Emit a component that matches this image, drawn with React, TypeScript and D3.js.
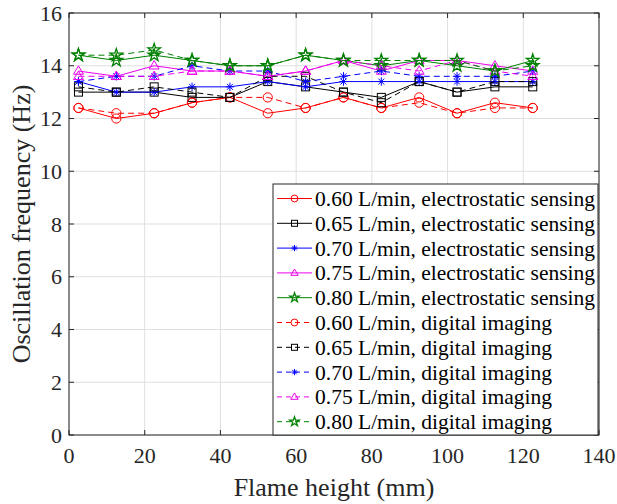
import React from "react";
import * as d3 from "d3";

const xHeights = [2.5, 12.5, 22.5, 32.5, 42.5, 52.5, 62.5, 72.5, 82.5, 92.5, 102.5, 112.5, 122.5];

const es060 = [12.4, 12.0, 12.2, 12.6, 12.8, 12.2, 12.4, 12.8, 12.4, 12.8, 12.2, 12.6, 12.4];
const es065 = [13.0, 13.0, 13.0, 12.8, 12.8, 13.4, 13.2, 13.0, 12.8, 13.4, 13.0, 13.2, 13.2];
const es070 = [13.4, 13.0, 13.0, 13.2, 13.2, 13.4, 13.2, 13.4, 13.4, 13.4, 13.4, 13.4, 13.4];
const es075 = [13.8, 13.6, 14.0, 13.8, 13.8, 13.6, 13.8, 14.2, 13.8, 14.2, 14.2, 14.0, 13.8];
const es080 = [14.4, 14.2, 14.4, 14.2, 14.0, 14.0, 14.4, 14.2, 14.0, 14.2, 14.0, 13.8, 14.2];

const di060 = [12.4, 12.2, 12.2, 12.6, 12.8, 12.8, 12.4, 12.8, 12.4, 12.6, 12.2, 12.4, 12.4];
const di065 = [13.2, 13.0, 13.2, 13.0, 12.8, 13.6, 13.6, 13.0, 12.6, 13.4, 13.0, 13.4, 13.4];
const di070 = [13.4, 13.6, 13.6, 14.0, 13.8, 13.8, 13.4, 13.6, 13.8, 13.6, 13.6, 13.6, 13.8];
const di075 = [13.6, 13.6, 13.6, 13.8, 13.8, 13.6, 13.8, 14.2, 14.0, 13.8, 14.2, 13.8, 13.6];
const di080 = [14.4, 14.4, 14.6, 14.2, 14.0, 14.0, 14.4, 14.2, 14.2, 14.2, 14.2, 13.8, 14.0];

const xTicks = [0, 20, 40, 60, 80, 100, 120, 140];
const yTicks = [0, 2, 4, 6, 8, 10, 12, 14, 16];

const seriesLabels = [
  "0.60 L/min, electrostatic sensing",
  "0.65 L/min, electrostatic sensing",
  "0.70 L/min, electrostatic sensing",
  "0.75 L/min, electrostatic sensing",
  "0.80 L/min, electrostatic sensing",
  "0.60 L/min, digital imaging",
  "0.65 L/min, digital imaging",
  "0.70 L/min, digital imaging",
  "0.75 L/min, digital imaging",
  "0.80 L/min, digital imaging",
];
const seriesValues = [es060, es065, es070, es075, es080, di060, di065, di070, di075, di080];
const seriesColors = ["#ff0000", "#000000", "#0000ff", "#ee00ee", "#008000"];
const seriesMarkers = ["circle", "square", "asterisk", "triangle", "star"];

const W = 617;
const H = 504;
const L = 69, R = 599, T = 13, B = 435;
const FONT = "'Liberation Serif', 'Times New Roman', serif";

function Marker({ kind, x, y, color, scale = 1 }: { kind: string; x: number; y: number; color: string; scale?: number }) {
  const common = { fill: "none", stroke: color, strokeWidth: 1 };
  if (kind === "circle") return <circle cx={x} cy={y} r={4.6 * scale} {...common} />;
  if (kind === "square") {
    const s = 4 * scale;
    return <rect x={x - s} y={y - s} width={2 * s} height={2 * s} {...common} />;
  }
  if (kind === "triangle") {
    const s = 5.2 * scale;
    const p = `M${x},${y - s}L${x + s * 0.95},${y + s * 0.62}L${x - s * 0.95},${y + s * 0.62}Z`;
    return <path d={p} {...common} />;
  }
  if (kind === "star") {
    const p = d3.symbol().type(d3.symbolStar).size(48 * scale * scale)() as string;
    return <path d={p} transform={`translate(${x},${y})`} {...common} strokeWidth={1.3} />;
  }
  // asterisk
  const s = 4.2 * scale;
  const d2 = s * 0.7071;
  const p = `M${x - s},${y}L${x + s},${y}M${x},${y - s}L${x},${y + s}M${x - d2},${y - d2}L${x + d2},${y + d2}M${x - d2},${y + d2}L${x + d2},${y - d2}`;
  return <path d={p} {...common} />;
}

export default function App() {
  const xs = d3.scaleLinear().domain([0, 140]).range([L, R]);
  const ys = d3.scaleLinear().domain([0, 16]).range([B, T]);
  const line = d3
    .line<number>()
    .x((_, i) => xs(xHeights[i]))
    .y((d) => ys(d));

  const legX = 273, legY = 184, legW = 325, legH = 251;
  const rowH = 24.8;
  const row0 = 198.5;

  return (
    <svg width={W} height={H} style={{ position: "absolute", left: 0, top: 0, background: "#fff" }} fontFamily={FONT}>
      <rect x={0} y={0} width={W} height={H} fill="#fff" />
      {xTicks.map((t) => (
        <line key={"gx" + t} x1={xs(t)} x2={xs(t)} y1={T} y2={B} stroke="#dfdfdf" strokeWidth={1} />
      ))}
      {yTicks.map((t) => (
        <line key={"gy" + t} x1={L} x2={R} y1={ys(t)} y2={ys(t)} stroke="#dfdfdf" strokeWidth={1} />
      ))}
      {seriesValues.map((vals, si) => {
        const ci = si % 5;
        const dashed = si >= 5;
        return (
          <g key={"s" + si}>
            <path
              d={line(vals) as string}
              fill="none"
              stroke={seriesColors[ci]}
              strokeWidth={1}
              strokeDasharray={dashed ? "6,4" : undefined}
            />
            {vals.map((v, i) => (
              <Marker key={i} kind={seriesMarkers[ci]} x={xs(xHeights[i])} y={ys(v)} color={seriesColors[ci]} />
            ))}
          </g>
        );
      })}
      <rect x={L} y={T} width={R - L} height={B - T} fill="none" stroke="#262626" strokeWidth={1} />
      {xTicks.map((t) => (
        <g key={"xt" + t}>
          <line x1={xs(t)} x2={xs(t)} y1={B} y2={B - 5} stroke="#262626" />
          <line x1={xs(t)} x2={xs(t)} y1={T} y2={T + 5} stroke="#262626" />
          <text x={xs(t)} y={463} textAnchor="middle" fontSize={22} fill="#262626">
            {t}
          </text>
        </g>
      ))}
      {yTicks.map((t) => (
        <g key={"yt" + t}>
          <line x1={L} x2={L + 5} y1={ys(t)} y2={ys(t)} stroke="#262626" />
          <line x1={R} x2={R - 5} y1={ys(t)} y2={ys(t)} stroke="#262626" />
          <text x={62} y={ys(t) + 7.5} textAnchor="end" fontSize={22} fill="#262626">
            {t}
          </text>
        </g>
      ))}
      <text x={(L + R) / 2} y={496} textAnchor="middle" fontSize={26} fill="#262626">
        Flame height (mm)
      </text>
      <text
        transform={`translate(30,${(T + B) / 2}) rotate(-90)`}
        textAnchor="middle"
        fontSize={26}
        fill="#262626"
      >
        Oscillation frequency (Hz)
      </text>
      <rect x={legX} y={legY} width={legW} height={legH} fill="#fff" stroke="#262626" strokeWidth={1} />
      {seriesLabels.map((lab, si) => {
        const ci = si % 5;
        const dashed = si >= 5;
        const cy = row0 + si * rowH;
        return (
          <g key={"lg" + si}>
            <line
              x1={277}
              x2={312}
              y1={cy}
              y2={cy}
              stroke={seriesColors[ci]}
              strokeWidth={1}
              strokeDasharray={dashed ? "5,4" : undefined}
            />
            <Marker kind={seriesMarkers[ci]} x={294.5} y={cy} color={seriesColors[ci]} scale={0.75} />
            <text x={315} y={cy + 7.5} fontSize={21.5} fill="#000">
              {lab}
            </text>
          </g>
        );
      })}
    </svg>
  );
}
